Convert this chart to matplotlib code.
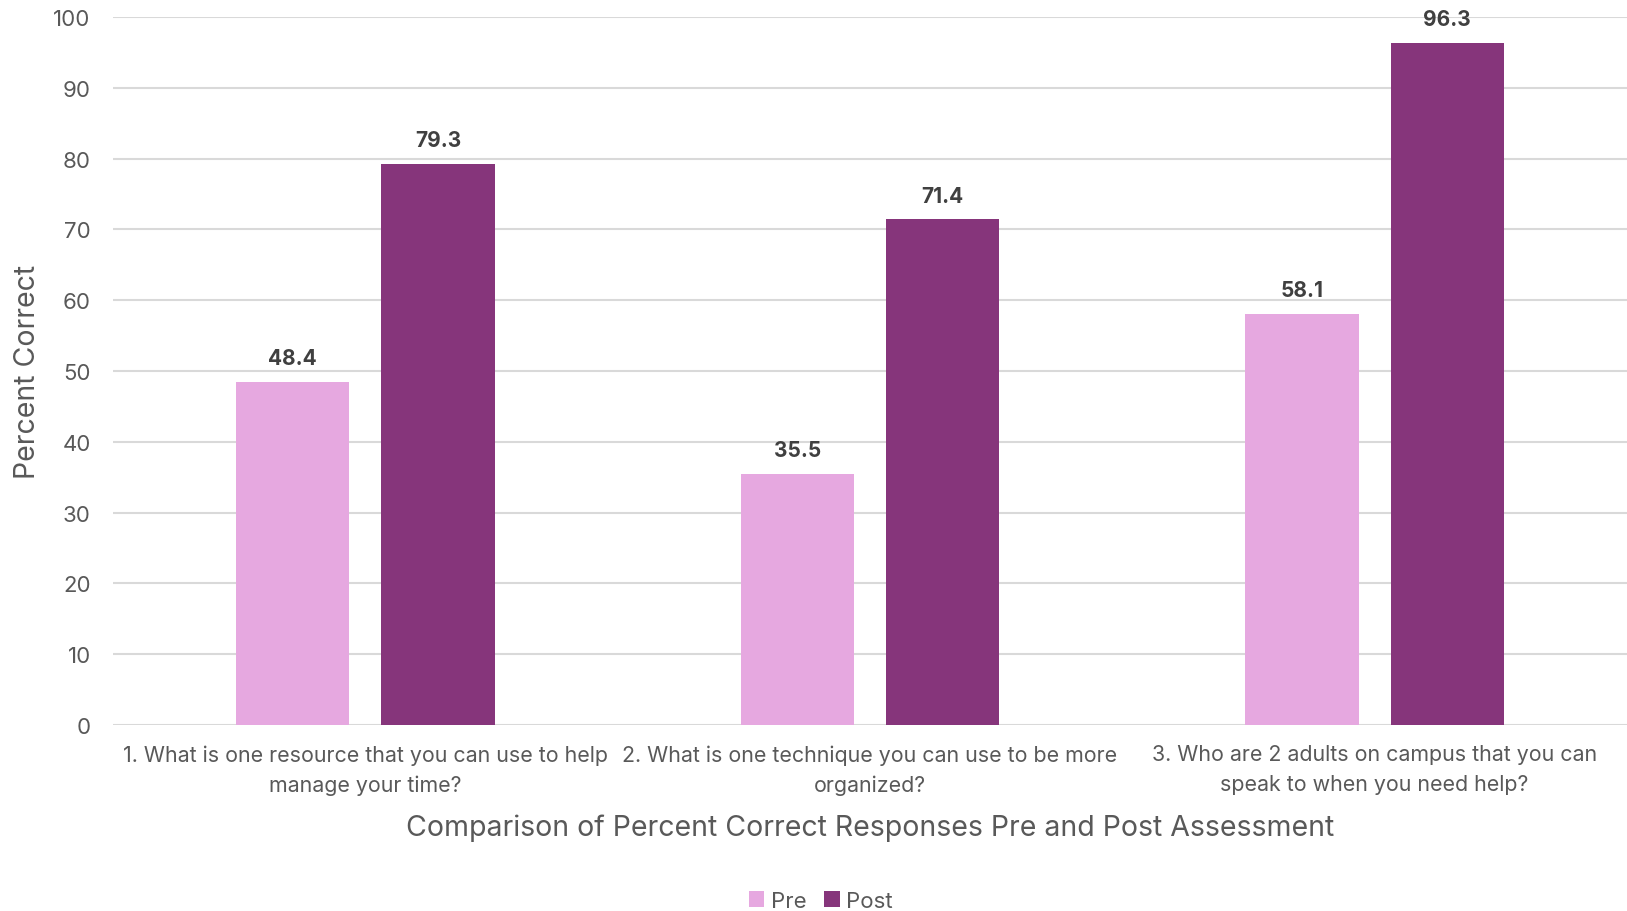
import matplotlib.pyplot as plt
import numpy as np

plt.rcParams['font.family'] = ['Inter', 'DejaVu Sans']

questions = [
    "1. What is one resource that you can use to help\nmanage your time?",
    "2. What is one technique you can use to be more\norganized?",
    "3. Who are 2 adults on campus that you can\nspeak to when you need help?",
]
pre = [48.4, 35.5, 58.1]
post = [79.3, 71.4, 96.3]

pre_color = '#E6A8E0'
post_color = '#86357B'
grey = '#595959'

fig = plt.figure(figsize=(16.27, 9.12), dpi=100)
ax = fig.add_axes([113 / 1627, 1 - 726 / 912, 1 - 113 / 1627, (726 - 18) / 912])

x = np.arange(len(questions))
w = 0.225
off = 0.144
b1 = ax.bar(x - off, pre, w, color=pre_color, label='Pre', zorder=3)
b2 = ax.bar(x + off, post, w, color=post_color, label='Post', zorder=3)

for bars in (b1, b2):
    for r in bars:
        ax.annotate(f'{r.get_height():.1f}', (r.get_x() + r.get_width() / 2, r.get_height()),
                    xytext=(0, 10), textcoords='offset points', ha='center', va='bottom',
                    fontsize=15, fontweight='bold', color='#404040')

ax.set_xlim(-0.5, 2.5)
ax.set_ylim(0, 100)
ax.set_yticks(range(0, 101, 10))
ax.yaxis.grid(True, color='#D9D9D9', linewidth=1.5, zorder=0)
for s in ax.spines.values():
    s.set_visible(False)
ax.tick_params(axis='y', length=0, labelsize=16, colors=grey, pad=16)
ax.tick_params(axis='x', length=0, labelsize=15.4, colors=grey, pad=14)
ax.set_xticks(x)
ax.set_xticklabels(questions, linespacing=1.6)
ax.set_ylabel('Percent Correct', fontsize=20.5, color=grey, labelpad=9)
ax.set_xlabel('Comparison of Percent Correct Responses Pre and Post Assessment',
              fontsize=20.5, color=grey, labelpad=13)

fig.legend(handles=[b1, b2], labels=['Pre', 'Post'], loc='center', bbox_to_anchor=(0.5045, 1 - 902 / 912),
           ncol=2, frameon=False, fontsize=16, labelcolor=grey, handlelength=0.7, handleheight=0.7,
           handletextpad=0.3, columnspacing=0.8)

plt.savefig('out.png')
